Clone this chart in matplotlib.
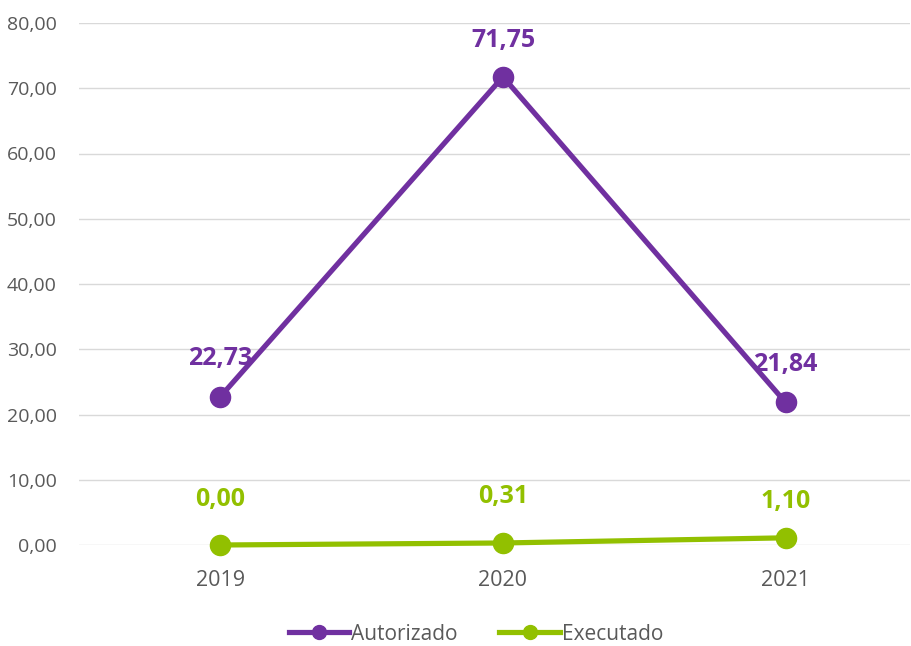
import matplotlib.pyplot as plt
from matplotlib.lines import Line2D

plt.rcParams["font.family"] = ["Open Sans", "DejaVu Sans"]

years = ["2019", "2020", "2021"]
autorizado = [22.73, 71.75, 21.84]
executado = [0.00, 0.31, 1.10]

PURPLE = "#7030A0"
GREEN = "#92C000"
GRID = "#D9D9D9"
TEXT = "#595959"

fig = plt.figure(figsize=(9.12, 6.46), dpi=100)
ax = fig.add_axes([79 / 912, 1 - 545 / 646, (910 - 79) / 912, (545 - 23) / 646])

x = range(len(years))
for vals, col in [(autorizado, PURPLE), (executado, GREEN)]:
    ax.plot(x, vals, color=col, linewidth=3.75, marker="o", markersize=14.5,
            solid_capstyle="round", zorder=3, clip_on=False)

def fmt(v):
    return f"{v:.2f}".replace(".", ",")

# label offsets above each point, in pixels (as placed in the original)
purple_off = [32, 30, 31]
green_off = [39, 40, 30]
for vals, col, offs in [(autorizado, PURPLE, purple_off), (executado, GREEN, green_off)]:
    for i, v in enumerate(vals):
        ax.annotate(fmt(v), (i, v), xytext=(0, offs[i] * 0.72), textcoords="offset points",
                    ha="center", va="baseline", color=col, fontsize=18,
                    fontweight="bold", zorder=4)

ax.set_xlim(-0.5, 2.44)
ax.set_ylim(0, 80)
ax.set_yticks(range(0, 81, 10))
ax.set_yticklabels([fmt(v) for v in range(0, 81, 10)])
ax.set_xticks(list(x))
ax.set_xticklabels(years)
ax.grid(axis="y", color=GRID, linewidth=1)
ax.set_axisbelow(True)
for s in ax.spines.values():
    s.set_visible(False)
ax.tick_params(axis="both", length=0, colors=TEXT)
ax.tick_params(axis="y", labelsize=14, pad=16)
ax.tick_params(axis="x", labelsize=15.5, pad=18)

handles = [
    Line2D([0], [0], color=PURPLE, linewidth=3.75, marker="o", markersize=10),
    Line2D([0], [0], color=GREEN, linewidth=3.75, marker="o", markersize=10),
]
fig.legend(handles, ["Autorizado", "Executado"], loc="center",
           bbox_to_anchor=(0.522, 1 - 634 / 646), ncol=2, frameon=False,
           fontsize=15, labelcolor=TEXT, handlelength=2.9, handletextpad=0.1,
           columnspacing=2.0)

fig.savefig("out.png", dpi=100)
